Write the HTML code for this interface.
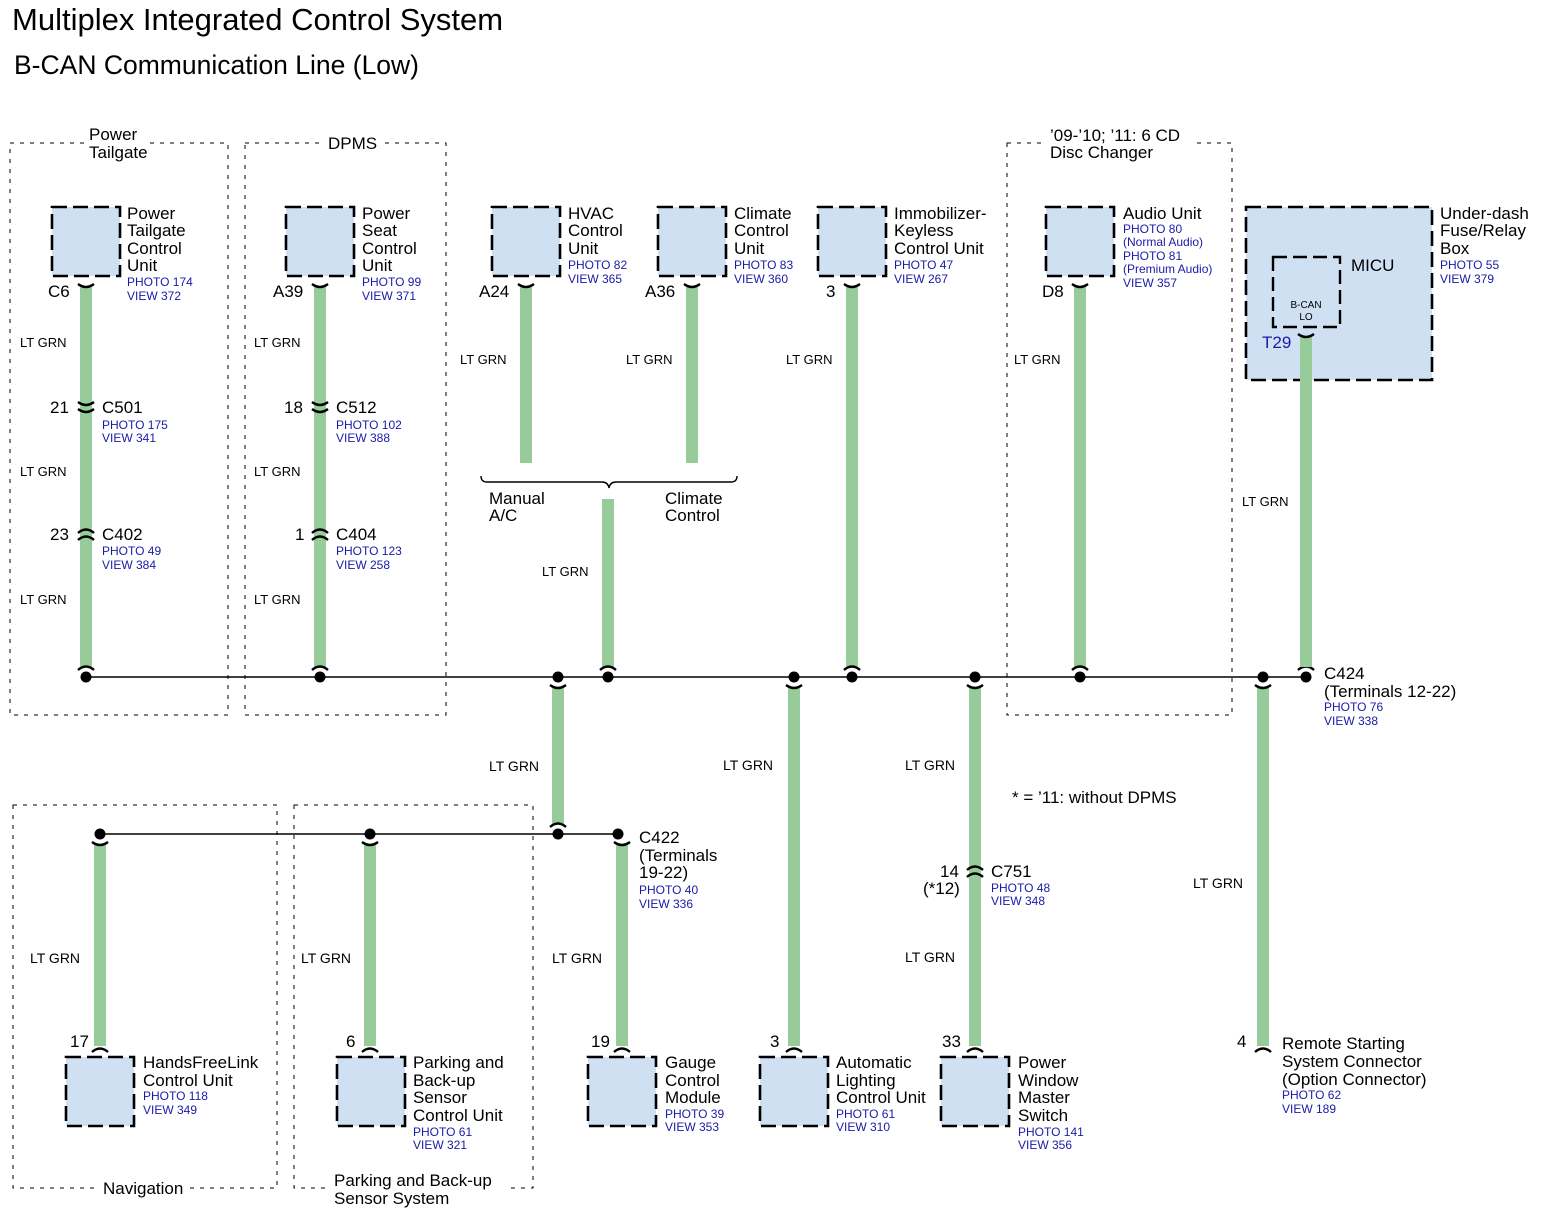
<!DOCTYPE html>
<html><head><meta charset="utf-8"><style>
html,body{margin:0;padding:0;background:#fff}
svg{display:block}
text{font-family:"Liberation Sans",Arial,sans-serif}
.t{font-size:17px;fill:#000}
.s{font-size:13px;fill:#000}
.b{font-size:12px;fill:#1a1aa8}
.w{stroke:#97cc9a;stroke-width:12;fill:none}
.box{fill:#cfe0f3;stroke:#000;stroke-width:2.6;stroke-dasharray:15 6}
.grp{fill:none;stroke:#000;stroke-width:1;stroke-dasharray:4 6}
.a{fill:none;stroke:#000;stroke-width:2.4}
</style></head><body>
<svg width="1542" height="1222" viewBox="0 0 1542 1222" xmlns="http://www.w3.org/2000/svg">
<text x="12" y="30" style="font-size:31px">Multiplex Integrated Control System</text>
<text x="14" y="74" style="font-size:26.5px">B-CAN Communication Line (Low)</text>

<!-- group boxes -->
<rect class="grp" x="10" y="143" width="218" height="572"/>
<rect class="grp" x="245" y="143" width="201" height="572"/>
<rect class="grp" x="1007" y="143" width="225" height="572"/>
<rect class="grp" x="13" y="805" width="264" height="383"/>
<rect class="grp" x="294" y="805" width="239" height="383"/>
<rect x="85" y="125" width="60" height="40" fill="#fff"/>
<text class="t" x="89" y="140">Power</text><text class="t" x="89" y="158">Tailgate</text>
<rect x="325" y="132" width="58" height="20" fill="#fff"/>
<text class="t" x="328" y="149">DPMS</text>
<rect x="1047" y="125" width="150" height="40" fill="#fff"/>
<text class="t" x="1050" y="141">’09-’10; ’11: 6 CD</text><text class="t" x="1050" y="158">Disc Changer</text>
<rect x="100" y="1178" width="90" height="20" fill="#fff"/>
<text class="t" x="103" y="1194">Navigation</text>
<rect x="330" y="1170" width="175" height="40" fill="#fff"/>
<text class="t" x="334" y="1186">Parking and Back-up</text><text class="t" x="334" y="1204">Sensor System</text>

<!-- wires -->
<g class="w">
<path d="M86 286V667M320 286V667M526 286V463M692 286V463M852 286V667M1080 286V667"/>
<path d="M608 499V667"/>
<path d="M558 687V824M100 844V1046M370 844V1046M622 844V1046"/>
<path d="M794 687V1046M975 687V1046M1263 687V1046"/>
</g>

<!-- buses -->
<path d="M86 677H1306M100 834H618" stroke="#000" stroke-width="1.6"/>
<g fill="#000">
<circle cx="86" cy="677" r="5.5"/><circle cx="320" cy="677" r="5.5"/><circle cx="558" cy="677" r="5.5"/><circle cx="608" cy="677" r="5.5"/><circle cx="794" cy="677" r="5.5"/><circle cx="852" cy="677" r="5.5"/><circle cx="975" cy="677" r="5.5"/><circle cx="1080" cy="677" r="5.5"/><circle cx="1263" cy="677" r="5.5"/><circle cx="1306" cy="677" r="5.5"/>
<circle cx="100" cy="834" r="5.5"/><circle cx="370" cy="834" r="5.5"/><circle cx="558" cy="834" r="5.5"/><circle cx="618" cy="834" r="5.5"/>
</g>

<g class="a">
<path d="M78 284Q86 290 94 284M312 284Q320 290 328 284M518 284Q526 290 534 284M684 284Q692 290 700 284M844 284Q852 290 860 284M1072 284Q1080 290 1088 284"/>
<path d="M78 670Q86 663 94 670M312 670Q320 663 328 670M600 670Q608 663 616 670M844 670Q852 663 860 670M1072 670Q1080 663 1088 670M1298 670Q1306 663 1314 670M550 827Q558 820 566 827"/>
<path d="M550 685Q558 691 566 685M786 685Q794 691 802 685M967 685Q975 691 983 685M1255 685Q1263 691 1271 685M92 842Q100 848 108 842M362 842Q370 848 378 842M614 842Q622 848 630 842"/>
<path d="M92 1052Q100 1045 108 1052M362 1052Q370 1045 378 1052M614 1052Q622 1045 630 1052M786 1052Q794 1045 802 1052M967 1052Q975 1045 983 1052M1255 1052Q1263 1045 1271 1052"/>
<path d="M78 402Q86 408 94 402M78 409Q86 415 94 409M312 402Q320 408 328 402M312 409Q320 415 328 409"/>
<path d="M78 533Q86 526 94 533M78 540Q86 533 94 540M312 533Q320 526 328 533M312 540Q320 533 328 540"/>
<path d="M967 870Q975 863 983 870M967 877Q975 870 983 877"/>
<path d="M481 476Q481 482 487 482H602Q608 482 609 488Q610 482 616 482H731Q737 482 737 476" stroke-width="1.4"/>
</g>

<!-- top boxes -->
<rect class="box" x="52" y="207" width="68" height="69"/>
<rect class="box" x="286" y="207" width="68" height="69"/>
<rect class="box" x="492" y="207" width="68" height="69"/>
<rect class="box" x="658" y="207" width="68" height="69"/>
<rect class="box" x="818" y="207" width="68" height="69"/>
<rect class="box" x="1046" y="207" width="68" height="69"/>
<rect class="box" x="1246" y="207" width="186" height="173"/>
<rect x="1273" y="257" width="67" height="70" fill="none" stroke="#000" stroke-width="2.4" stroke-dasharray="14 6"/>
<path class="w" d="M1306 337V667"/>
<path class="a" d="M1298 334Q1306 340 1314 334"/>
<!-- bottom boxes -->
<rect class="box" x="66" y="1057" width="68" height="69"/>
<rect class="box" x="337" y="1057" width="68" height="69"/>
<rect class="box" x="588" y="1057" width="68" height="69"/>
<rect class="box" x="760" y="1057" width="68" height="69"/>
<rect class="box" x="941" y="1057" width="68" height="69"/>

<!-- top labels -->
<text class="t" x="127" y="219">Power</text><text class="t" x="127" y="236">Tailgate</text><text class="t" x="127" y="254">Control</text><text class="t" x="127" y="271">Unit</text>
<text class="b" x="127" y="286">PHOTO 174</text><text class="b" x="127" y="300">VIEW 372</text>
<text class="t" x="48" y="297">C6</text>
<text class="t" x="362" y="219">Power</text><text class="t" x="362" y="236">Seat</text><text class="t" x="362" y="254">Control</text><text class="t" x="362" y="271">Unit</text>
<text class="b" x="362" y="286">PHOTO 99</text><text class="b" x="362" y="300">VIEW 371</text>
<text class="t" x="273" y="297">A39</text>
<text class="t" x="568" y="219">HVAC</text><text class="t" x="568" y="236">Control</text><text class="t" x="568" y="254">Unit</text>
<text class="b" x="568" y="269">PHOTO 82</text><text class="b" x="568" y="283">VIEW 365</text>
<text class="t" x="479" y="297">A24</text>
<text class="t" x="734" y="219">Climate</text><text class="t" x="734" y="236">Control</text><text class="t" x="734" y="254">Unit</text>
<text class="b" x="734" y="269">PHOTO 83</text><text class="b" x="734" y="283">VIEW 360</text>
<text class="t" x="645" y="297">A36</text>
<text class="t" x="894" y="219">Immobilizer-</text><text class="t" x="894" y="236">Keyless</text><text class="t" x="894" y="254">Control Unit</text>
<text class="b" x="894" y="269">PHOTO 47</text><text class="b" x="894" y="283">VIEW 267</text>
<text class="t" x="826" y="297">3</text>
<text class="t" x="1123" y="219">Audio Unit</text>
<text class="b" x="1123" y="233">PHOTO 80</text><text class="b" x="1123" y="246">(Normal Audio)</text><text class="b" x="1123" y="260">PHOTO 81</text><text class="b" x="1123" y="273">(Premium Audio)</text><text class="b" x="1123" y="287">VIEW 357</text>
<text class="t" x="1042" y="297">D8</text>
<text class="t" x="1440" y="219">Under-dash</text><text class="t" x="1440" y="236">Fuse/Relay</text><text class="t" x="1440" y="254">Box</text>
<text class="b" x="1440" y="269">PHOTO 55</text><text class="b" x="1440" y="283">VIEW 379</text>
<text class="t" x="1351" y="271">MICU</text>
<text x="1306" y="308" text-anchor="middle" style="font-size:10px">B-CAN</text><text x="1306" y="320" text-anchor="middle" style="font-size:10px">LO</text>
<text x="1262" y="348" style="font-size:17px;fill:#1a1aa8">T29</text>

<!-- connectors -->
<text class="t" x="50" y="413">21</text><text class="t" x="102" y="413">C501</text>
<text class="b" x="102" y="429">PHOTO 175</text><text class="b" x="102" y="442">VIEW 341</text>
<text class="t" x="50" y="540">23</text><text class="t" x="102" y="540">C402</text>
<text class="b" x="102" y="555">PHOTO 49</text><text class="b" x="102" y="569">VIEW 384</text>
<text class="t" x="284" y="413">18</text><text class="t" x="336" y="413">C512</text>
<text class="b" x="336" y="429">PHOTO 102</text><text class="b" x="336" y="442">VIEW 388</text>
<text class="t" x="295" y="540">1</text><text class="t" x="336" y="540">C404</text>
<text class="b" x="336" y="555">PHOTO 123</text><text class="b" x="336" y="569">VIEW 258</text>

<text class="t" x="489" y="504">Manual</text><text class="t" x="489" y="521">A/C</text>
<text class="t" x="665" y="504">Climate</text><text class="t" x="665" y="521">Control</text>

<text class="t" x="1324" y="679">C424</text><text class="t" x="1324" y="697">(Terminals 12-22)</text>
<text class="b" x="1324" y="711">PHOTO 76</text><text class="b" x="1324" y="725">VIEW 338</text>

<text class="t" x="639" y="843">C422</text><text class="t" x="639" y="861">(Terminals</text><text class="t" x="639" y="878">19-22)</text>
<text class="b" x="639" y="894">PHOTO 40</text><text class="b" x="639" y="908">VIEW 336</text>

<text class="t" x="1012" y="803">* = ’11: without DPMS</text>
<text class="t" x="940" y="877">14</text><text class="t" x="923" y="894">(*12)</text><text class="t" x="991" y="877">C751</text>
<text class="b" x="991" y="892">PHOTO 48</text><text class="b" x="991" y="905">VIEW 348</text>

<g class="s">
<text x="20" y="347">LT GRN</text><text x="20" y="476">LT GRN</text><text x="20" y="604">LT GRN</text>
<text x="254" y="347">LT GRN</text><text x="254" y="476">LT GRN</text><text x="254" y="604">LT GRN</text>
<text x="460" y="364">LT GRN</text><text x="626" y="364">LT GRN</text><text x="786" y="364">LT GRN</text><text x="1014" y="364">LT GRN</text>
<text x="542" y="576">LT GRN</text><text x="1242" y="506">LT GRN</text>
<text x="489" y="771" style="font-size:14px">LT GRN</text><text x="723" y="770" style="font-size:14px">LT GRN</text><text x="905" y="770" style="font-size:14px">LT GRN</text>
<text x="1193" y="888" style="font-size:14px">LT GRN</text>
<text x="30" y="963" style="font-size:14px">LT GRN</text><text x="301" y="963" style="font-size:14px">LT GRN</text><text x="552" y="963" style="font-size:14px">LT GRN</text><text x="905" y="962" style="font-size:14px">LT GRN</text>
</g>

<!-- bottom labels -->
<text class="t" x="70" y="1047">17</text>
<text class="t" x="143" y="1068">HandsFreeLink</text><text class="t" x="143" y="1086">Control Unit</text>
<text class="b" x="143" y="1100">PHOTO 118</text><text class="b" x="143" y="1114">VIEW 349</text>
<text class="t" x="346" y="1047">6</text>
<text class="t" x="413" y="1068">Parking and</text><text class="t" x="413" y="1086">Back-up</text><text class="t" x="413" y="1103">Sensor</text><text class="t" x="413" y="1121">Control Unit</text>
<text class="b" x="413" y="1136">PHOTO 61</text><text class="b" x="413" y="1149">VIEW 321</text>
<text class="t" x="591" y="1047">19</text>
<text class="t" x="665" y="1068">Gauge</text><text class="t" x="665" y="1086">Control</text><text class="t" x="665" y="1103">Module</text>
<text class="b" x="665" y="1118">PHOTO 39</text><text class="b" x="665" y="1131">VIEW 353</text>
<text class="t" x="770" y="1047">3</text>
<text class="t" x="836" y="1068">Automatic</text><text class="t" x="836" y="1086">Lighting</text><text class="t" x="836" y="1103">Control Unit</text>
<text class="b" x="836" y="1118">PHOTO 61</text><text class="b" x="836" y="1131">VIEW 310</text>
<text class="t" x="942" y="1047">33</text>
<text class="t" x="1018" y="1068">Power</text><text class="t" x="1018" y="1086">Window</text><text class="t" x="1018" y="1103">Master</text><text class="t" x="1018" y="1121">Switch</text>
<text class="b" x="1018" y="1136">PHOTO 141</text><text class="b" x="1018" y="1149">VIEW 356</text>
<text class="t" x="1237" y="1047">4</text>
<text class="t" x="1282" y="1049">Remote Starting</text><text class="t" x="1282" y="1067">System Connector</text><text class="t" x="1282" y="1085">(Option Connector)</text>
<text class="b" x="1282" y="1099">PHOTO 62</text><text class="b" x="1282" y="1113">VIEW 189</text>
</svg>
</body></html>
